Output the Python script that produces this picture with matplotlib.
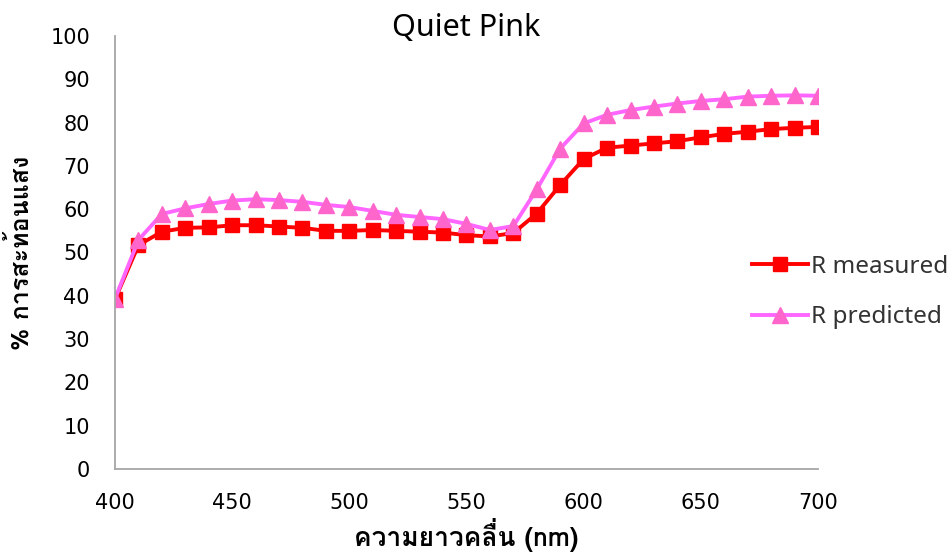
import matplotlib
matplotlib.use("Agg")
import matplotlib.pyplot as plt
from matplotlib import font_manager
from matplotlib.ft2font import FT2Font

# wavelengths and reflectance (%)
wavelength = list(range(400, 701, 10))
r_measured = [39.2, 51.7, 54.8, 55.7, 55.8, 56.3, 56.3, 56.0, 55.7, 55.0,
              55.0, 55.2, 55.0, 54.8, 54.6, 54.0, 53.7, 54.5, 59.0, 65.6,
              71.6, 74.2, 74.7, 75.2, 75.7, 76.6, 77.4, 77.9, 78.5, 78.8,
              79.0]
r_predicted = [39.3, 52.9, 58.9, 60.2, 61.2, 62.0, 62.3, 62.1, 61.7, 61.0,
               60.5, 59.6, 58.7, 58.2, 57.7, 56.6, 55.2, 56.1, 64.6, 74.0,
               79.8, 81.8, 82.9, 83.7, 84.4, 85.0, 85.4, 86.0, 86.2, 86.3,
               86.2]

title = "Quiet Pink"
x_label = "ความยาวคลื่น (nm)"
y_label = "% การสะท้อนแสง"


def thai_fonts():
    """Return names of installed fonts that have Thai glyphs."""
    names = []
    for f in font_manager.fontManager.ttflist:
        try:
            if 0x0E01 in FT2Font(f.fname).get_charmap():
                if f.name not in names:
                    names.append(f.name)
        except Exception:
            pass
    return names


thai = thai_fonts()
label_families = thai[:1] + ["DejaVu Sans"]
text_families = ["Noto Sans", "DejaVu Sans"]

plt.rcParams["font.family"] = ["DejaVu Sans"]

fig = plt.figure(figsize=(9.52, 5.54), dpi=100)
ax = fig.add_axes([115 / 952, 1 - 469 / 554, 703 / 952, 433 / 554])

ax.plot(wavelength, r_measured, color="#FF0000", lw=2.8, marker="s",
        markersize=10, label="R measured")
ax.plot(wavelength, r_predicted, color="#FF66FF", lw=2.8, marker="^",
        markersize=11, markerfacecolor="#FF66CC", markeredgecolor="#FF66CC",
        label="R predicted")

ax.set_xlim(400, 700)
ax.set_ylim(0, 100)
ax.set_xticks(range(400, 701, 50))
ax.set_yticks(range(0, 101, 10))
ax.tick_params(length=0, labelsize=15)
ax.tick_params(axis="x", pad=17)
ax.tick_params(axis="y", pad=18)
for s in ["top", "right"]:
    ax.spines[s].set_visible(False)
for s in ["left", "bottom"]:
    ax.spines[s].set_color("#A6A6A6")
    ax.spines[s].set_linewidth(1.3)

# title sits with its baseline on the top of the plot area
fig.text((115 + 703 / 2) / 952, 1 - 36 / 554, title, fontsize=22,
         family=text_families, ha="center", va="baseline")
ax.set_xlabel(x_label, fontsize=19, fontweight="bold", family=label_families,
              labelpad=4)
ax.set_ylabel(y_label, fontsize=18, fontweight="bold", family=label_families,
              labelpad=12)

leg = ax.legend(loc="center left", bbox_to_anchor=(0.892, 0.409),
                frameon=False, prop={"family": text_families, "size": 17.5},
                handlelength=2.3, labelspacing=1.1, handletextpad=0.15,
                borderaxespad=0)
for t in leg.get_texts():
    t.set_color("#333333")

fig.savefig("out.png", dpi=100)
